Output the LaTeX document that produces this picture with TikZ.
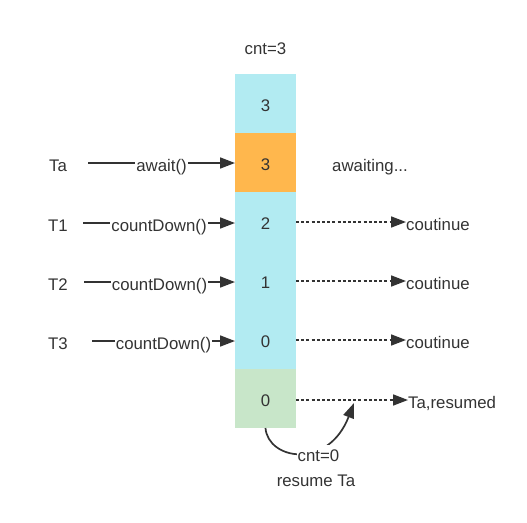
\documentclass[tikz,border=0pt]{standalone}
\usepackage{fontspec}
\setmainfont{Liberation Sans}
\usetikzlibrary{arrows.meta}
\definecolor{cellblue}{HTML}{B2EBF2}
\definecolor{cellorange}{HTML}{FFB74D}
\definecolor{cellgreen}{HTML}{C8E6C9}
\definecolor{ink}{HTML}{333333}
\begin{document}
\begin{tikzpicture}[x=1pt,y=-1pt,
  every node/.style={font=\fontsize{16.8}{19}\selectfont, text=ink, text height=16pt, text depth=0pt},
  cell/.style={minimum width=61pt, minimum height=59pt, inner sep=0pt, outer sep=0pt},
  plain/.style={inner sep=0pt},
  online/.style={fill=white, inner xsep=1pt, inner ysep=0pt},
  solidarrow/.style={draw=ink, line width=1.7pt, -{Triangle[length=15pt,width=11pt]}},
  dotarrow/.style={draw=ink, line width=1.7pt, dash pattern=on 3pt off 2.2pt, -{Triangle[length=15pt,width=11pt]}},
  curvearrow/.style={draw=ink, line width=1.7pt, -{Triangle[length=15pt,width=11pt]}}]
\useasboundingbox (0,0) rectangle (527,522);

% column of cells
\node[cell, fill=cellblue]   (c1) at (265.5,103.5) {3};
\node[cell, fill=cellorange] (c2) at (265.5,162.5) {3};
\node[cell, fill=cellblue]   (c3) at (265.5,221.5) {2};
\node[cell, fill=cellblue]   (c4) at (265.5,280.5) {1};
\node[cell, fill=cellblue]   (c5) at (265.5,339.5) {0};
\node[cell, fill=cellgreen]  (c6) at (265.5,398.5) {0};

\node[plain] (cnt3) at (265.5,46) {cnt=3};

% threads
\node[plain] (ta) at (58,163) {Ta};
\node[plain] (t1) at (58,223) {T1};
\node[plain] (t2) at (58,282) {T2};
\node[plain] (t3) at (58,341) {T3};

\coordinate (sa) at (88,163);
\coordinate (s1) at (83,223);
\coordinate (s2) at (84,282);
\coordinate (s3) at (92,341);

\draw[solidarrow] (sa) -- (sa -| c2.west) node[online, midway] {await()};
\draw[solidarrow] (s1) -- (s1 -| c3.west) node[online, midway] {countDown()};
\draw[solidarrow] (s2) -- (s2 -| c4.west) node[online, midway] {countDown()};
\draw[solidarrow] (s3) -- (s3 -| c5.west) node[online, midway] {countDown()};

% right side
\node[plain, anchor=west] (await) at (332,163) {awaiting...};
\node[plain, anchor=west] (k1) at (406,222) {coutinue};
\node[plain, anchor=west] (k2) at (406,281) {coutinue};
\node[plain, anchor=west] (k3) at (406,340) {coutinue};
\node[plain, anchor=west] (res) at (408,400) {Ta,resumed};

\draw[dotarrow] (c3.east |- k1.west) -- (k1.west);
\draw[dotarrow] (c4.east |- k2.west) -- (k2.west);
\draw[dotarrow] (c5.east |- k3.west) -- (k3.west);
\draw[dotarrow] (c6.east |- res.west) -- (res.west);

% resume curve
\coordinate (tip) at (354,403);
\draw[curvearrow] (c6.south) .. controls (268,460) and (328,470) .. (tip);
\node[online] (cnt0) at (318.5,453) {cnt=0};
\node[plain] (resume) at (316,478) {resume Ta};
\end{tikzpicture}
\end{document}
